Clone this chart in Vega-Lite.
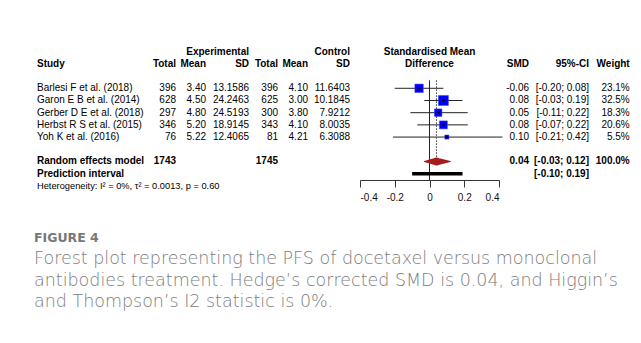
{
  "$schema": "https://vega.github.io/schema/vega-lite/v6.json",
  "padding": {"left": 34, "top": 45.6, "right": 5, "bottom": 5},
  "background": "#ffffff",
  "datasets": {
    "studies": [
      {"study": "Barlesi F et al. (2018)", "eTotal": 396, "eMean": 3.40, "eSD": 13.1586, "cTotal": 396, "cMean": 4.10, "cSD": 11.6403, "smd": -0.06, "lo": -0.20, "hi": 0.08, "weight": 0.231, "row": 3},
      {"study": "Garon E B et al. (2014)", "eTotal": 628, "eMean": 4.50, "eSD": 24.2463, "cTotal": 625, "cMean": 3.00, "cSD": 10.1845, "smd": 0.08, "lo": -0.03, "hi": 0.19, "weight": 0.325, "row": 4},
      {"study": "Gerber D E et al. (2018)", "eTotal": 297, "eMean": 4.80, "eSD": 24.5193, "cTotal": 300, "cMean": 3.80, "cSD": 7.9212, "smd": 0.05, "lo": -0.11, "hi": 0.22, "weight": 0.183, "row": 5},
      {"study": "Herbst R S et al. (2015)", "eTotal": 346, "eMean": 5.20, "eSD": 18.9145, "cTotal": 343, "cMean": 4.10, "cSD": 8.0035, "smd": 0.08, "lo": -0.07, "hi": 0.22, "weight": 0.206, "row": 6},
      {"study": "Yoh K et al. (2016)", "eTotal": 76, "eMean": 5.22, "eSD": 12.4065, "cTotal": 81, "cMean": 4.21, "cSD": 6.3088, "smd": 0.10, "lo": -0.21, "hi": 0.42, "weight": 0.055, "row": 7}
    ],
    "pooled": [
      {"label": "Random effects model", "eTotal": 1743, "cTotal": 1745, "smd": 0.04, "lo": -0.03, "hi": 0.12, "weight": 1.0, "row": 9}
    ],
    "prediction": [
      {"label": "Prediction interval", "lo": -0.10, "hi": 0.19, "row": 10}
    ],
    "heterogeneity": [
      {"text": "Heterogeneity: I² = 0%, τ² = 0.0013, p = 0.60", "row": 11}
    ]
  },
  "title": {
    "text": "FIGURE 4",
    "subtitle": [
      "Forest plot representing the PFS of docetaxel versus monoclonal",
      "antibodies treatment. Hedge’s corrected SMD is 0.04, and Higgin’s",
      "and Thompson’s I2 statistic is 0%."
    ],
    "orient": "bottom",
    "anchor": "start",
    "dx": -3,
    "offset": 29,
    "font": "DejaVu Sans",
    "fontSize": 12.5,
    "fontWeight": 600,
    "color": "#787878",
    "subtitleFont": "DejaVu Sans",
    "subtitleFontSize": 17.5,
    "subtitleFontWeight": 300,
    "subtitleColor": "#7c7c7c",
    "subtitleLineHeight": 21.5,
    "subtitlePadding": 6
  },
  "hconcat": [
    {
      "width": 108, "height": 146.4,
      "layer": [
        {"data": {"values": [{}]}, "mark": {"type": "text", "align": "left", "fontWeight": "bold"},
         "encoding": {"x": {"datum": 0, "type": "quantitative", "scale": {"domain": [0, 1]}, "axis": null},
                      "y": {"datum": 1, "type": "quantitative", "scale": {"domain": [-0.5, 11.5], "reverse": true, "nice": false, "zero": false}, "axis": null},
                      "text": {"value": "Study"}}},
        {"data": {"name": "studies"}, "mark": {"type": "text", "align": "left"},
         "encoding": {"x": {"datum": 0, "type": "quantitative", "scale": {"domain": [0, 1]}, "axis": null},
                      "y": {"field": "row", "type": "quantitative", "scale": {"domain": [-0.5, 11.5], "reverse": true, "nice": false, "zero": false}, "axis": null},
                      "text": {"field": "study"}}},
        {"data": {"name": "pooled"}, "mark": {"type": "text", "align": "left", "fontWeight": "bold"},
         "encoding": {"x": {"datum": 0, "type": "quantitative", "scale": {"domain": [0, 1]}, "axis": null},
                      "y": {"field": "row", "type": "quantitative", "scale": {"domain": [-0.5, 11.5], "reverse": true, "nice": false, "zero": false}, "axis": null},
                      "text": {"field": "label"}}},
        {"data": {"name": "prediction"}, "mark": {"type": "text", "align": "left", "fontWeight": "bold"},
         "encoding": {"x": {"datum": 0, "type": "quantitative", "scale": {"domain": [0, 1]}, "axis": null},
                      "y": {"field": "row", "type": "quantitative", "scale": {"domain": [-0.5, 11.5], "reverse": true, "nice": false, "zero": false}, "axis": null},
                      "text": {"field": "label"}}},
        {"data": {"name": "heterogeneity"}, "mark": {"type": "text", "align": "left", "fontSize": 9.3},
         "encoding": {"x": {"datum": 0, "type": "quantitative", "scale": {"domain": [0, 1]}, "axis": null},
                      "y": {"field": "row", "type": "quantitative", "scale": {"domain": [-0.5, 11.5], "reverse": true, "nice": false, "zero": false}, "axis": null},
                      "text": {"field": "text"}}}
      ]
    },
    {
      "width": 31, "height": 146.4,
      "layer": [
        {"data": {"values": [{}]}, "mark": {"type": "text", "align": "right", "fontWeight": "bold"},
         "encoding": {"x": {"datum": 1, "type": "quantitative", "scale": {"domain": [0, 1]}, "axis": null},
                      "y": {"datum": 1, "type": "quantitative", "scale": {"domain": [-0.5, 11.5], "reverse": true, "nice": false, "zero": false}, "axis": null},
                      "text": {"value": "Total"}}},
        {"data": {"name": "studies"}, "mark": {"type": "text", "align": "right"},
         "encoding": {"x": {"datum": 1, "type": "quantitative", "scale": {"domain": [0, 1]}, "axis": null},
                      "y": {"field": "row", "type": "quantitative", "scale": {"domain": [-0.5, 11.5], "reverse": true, "nice": false, "zero": false}, "axis": null},
                      "text": {"field": "eTotal", "type": "quantitative", "format": "d"}}},
        {"data": {"name": "pooled"}, "mark": {"type": "text", "align": "right", "fontWeight": "bold"},
         "encoding": {"x": {"datum": 1, "type": "quantitative", "scale": {"domain": [0, 1]}, "axis": null},
                      "y": {"field": "row", "type": "quantitative", "scale": {"domain": [-0.5, 11.5], "reverse": true, "nice": false, "zero": false}, "axis": null},
                      "text": {"field": "eTotal", "type": "quantitative", "format": "d"}}}
      ]
    },
    {
      "width": 30, "height": 146.4,
      "layer": [
        {"data": {"values": [{}]}, "mark": {"type": "text", "align": "right", "fontWeight": "bold"},
         "encoding": {"x": {"datum": 1, "type": "quantitative", "scale": {"domain": [0, 1]}, "axis": null},
                      "y": {"datum": 1, "type": "quantitative", "scale": {"domain": [-0.5, 11.5], "reverse": true, "nice": false, "zero": false}, "axis": null},
                      "text": {"value": "Mean"}}},
        {"data": {"name": "studies"}, "mark": {"type": "text", "align": "right"},
         "encoding": {"x": {"datum": 1, "type": "quantitative", "scale": {"domain": [0, 1]}, "axis": null},
                      "y": {"field": "row", "type": "quantitative", "scale": {"domain": [-0.5, 11.5], "reverse": true, "nice": false, "zero": false}, "axis": null},
                      "text": {"field": "eMean", "type": "quantitative", "format": ".2f"}}}
      ]
    },
    {
      "width": 43, "height": 146.4,
      "layer": [
        {"data": {"values": [{}]}, "mark": {"type": "text", "align": "right", "fontWeight": "bold"},
         "encoding": {"x": {"datum": 1, "type": "quantitative", "scale": {"domain": [0, 1]}, "axis": null},
                      "y": {"datum": 0, "type": "quantitative", "scale": {"domain": [-0.5, 11.5], "reverse": true, "nice": false, "zero": false}, "axis": null},
                      "text": {"value": "Experimental"}}},
        {"data": {"values": [{}]}, "mark": {"type": "text", "align": "right", "fontWeight": "bold"},
         "encoding": {"x": {"datum": 1, "type": "quantitative", "scale": {"domain": [0, 1]}, "axis": null},
                      "y": {"datum": 1, "type": "quantitative", "scale": {"domain": [-0.5, 11.5], "reverse": true, "nice": false, "zero": false}, "axis": null},
                      "text": {"value": "SD"}}},
        {"data": {"name": "studies"}, "mark": {"type": "text", "align": "right"},
         "encoding": {"x": {"datum": 1, "type": "quantitative", "scale": {"domain": [0, 1]}, "axis": null},
                      "y": {"field": "row", "type": "quantitative", "scale": {"domain": [-0.5, 11.5], "reverse": true, "nice": false, "zero": false}, "axis": null},
                      "text": {"field": "eSD", "type": "quantitative", "format": ".4f"}}}
      ]
    },
    {
      "width": 29, "height": 146.4,
      "layer": [
        {"data": {"values": [{}]}, "mark": {"type": "text", "align": "right", "fontWeight": "bold"},
         "encoding": {"x": {"datum": 1, "type": "quantitative", "scale": {"domain": [0, 1]}, "axis": null},
                      "y": {"datum": 1, "type": "quantitative", "scale": {"domain": [-0.5, 11.5], "reverse": true, "nice": false, "zero": false}, "axis": null},
                      "text": {"value": "Total"}}},
        {"data": {"name": "studies"}, "mark": {"type": "text", "align": "right"},
         "encoding": {"x": {"datum": 1, "type": "quantitative", "scale": {"domain": [0, 1]}, "axis": null},
                      "y": {"field": "row", "type": "quantitative", "scale": {"domain": [-0.5, 11.5], "reverse": true, "nice": false, "zero": false}, "axis": null},
                      "text": {"field": "cTotal", "type": "quantitative", "format": "d"}}},
        {"data": {"name": "pooled"}, "mark": {"type": "text", "align": "right", "fontWeight": "bold"},
         "encoding": {"x": {"datum": 1, "type": "quantitative", "scale": {"domain": [0, 1]}, "axis": null},
                      "y": {"field": "row", "type": "quantitative", "scale": {"domain": [-0.5, 11.5], "reverse": true, "nice": false, "zero": false}, "axis": null},
                      "text": {"field": "cTotal", "type": "quantitative", "format": "d"}}}
      ]
    },
    {
      "width": 30, "height": 146.4,
      "layer": [
        {"data": {"values": [{}]}, "mark": {"type": "text", "align": "right", "fontWeight": "bold"},
         "encoding": {"x": {"datum": 1, "type": "quantitative", "scale": {"domain": [0, 1]}, "axis": null},
                      "y": {"datum": 1, "type": "quantitative", "scale": {"domain": [-0.5, 11.5], "reverse": true, "nice": false, "zero": false}, "axis": null},
                      "text": {"value": "Mean"}}},
        {"data": {"name": "studies"}, "mark": {"type": "text", "align": "right"},
         "encoding": {"x": {"datum": 1, "type": "quantitative", "scale": {"domain": [0, 1]}, "axis": null},
                      "y": {"field": "row", "type": "quantitative", "scale": {"domain": [-0.5, 11.5], "reverse": true, "nice": false, "zero": false}, "axis": null},
                      "text": {"field": "cMean", "type": "quantitative", "format": ".2f"}}}
      ]
    },
    {
      "width": 51.3, "height": 146.4,
      "layer": [
        {"data": {"values": [{}]}, "mark": {"type": "text", "align": "right", "fontWeight": "bold", "dx": -9.3},
         "encoding": {"x": {"datum": 1, "type": "quantitative", "scale": {"domain": [0, 1]}, "axis": null},
                      "y": {"datum": 0, "type": "quantitative", "scale": {"domain": [-0.5, 11.5], "reverse": true, "nice": false, "zero": false}, "axis": null},
                      "text": {"value": "Control"}}},
        {"data": {"values": [{}]}, "mark": {"type": "text", "align": "right", "fontWeight": "bold", "dx": -9.3},
         "encoding": {"x": {"datum": 1, "type": "quantitative", "scale": {"domain": [0, 1]}, "axis": null},
                      "y": {"datum": 1, "type": "quantitative", "scale": {"domain": [-0.5, 11.5], "reverse": true, "nice": false, "zero": false}, "axis": null},
                      "text": {"value": "SD"}}},
        {"data": {"name": "studies"}, "mark": {"type": "text", "align": "right", "dx": -9.3},
         "encoding": {"x": {"datum": 1, "type": "quantitative", "scale": {"domain": [0, 1]}, "axis": null},
                      "y": {"field": "row", "type": "quantitative", "scale": {"domain": [-0.5, 11.5], "reverse": true, "nice": false, "zero": false}, "axis": null},
                      "text": {"field": "cSD", "type": "quantitative", "format": ".4f"}}}
      ]
    },
    {
      "width": 139, "height": 134.4,
      "layer": [
        {"data": {"name": "studies"}, "mark": {"type": "rule", "color": "#222222", "strokeWidth": 1},
         "encoding": {"x": {"field": "lo", "type": "quantitative", "title": null,
                            "scale": {"domain": [-0.4, 0.4], "nice": false, "zero": false},
                            "axis": {"values": [-0.4, -0.2, 0, 0.2, 0.4], "tickCount": 5, "format": ".1~f", "labelOverlap": false, "labelSeparation": 0}},
                      "x2": {"field": "hi"},
                      "y": {"field": "row", "type": "quantitative", "scale": {"domain": [-0.5, 10.52], "reverse": true, "nice": false, "zero": false}, "axis": null}}},
        {"data": {"values": [{}]}, "mark": {"type": "rule", "color": "#222222", "strokeWidth": 1},
         "encoding": {"x": {"datum": 0, "type": "quantitative", "title": null},
                      "y": {"datum": 2.35, "type": "quantitative"},
                      "y2": {"datum": 10.52}}},
        {"data": {"name": "pooled"}, "mark": {"type": "rule", "color": "#333333", "strokeWidth": 1, "strokeDash": [1.5, 1.5]},
         "encoding": {"x": {"field": "smd", "type": "quantitative", "title": null},
                      "y": {"datum": 2.35, "type": "quantitative"},
                      "y2": {"datum": 8.67}}},
        {"data": {"name": "studies"}, "mark": {"type": "point", "shape": "square", "filled": true, "color": "#0000ff", "opacity": 1, "stroke": "#3a3aff", "strokeWidth": 0.5},
         "encoding": {"x": {"field": "smd", "type": "quantitative", "title": null},
                      "y": {"field": "row", "type": "quantitative"},
                      "size": {"field": "weight", "type": "quantitative", "scale": {"domain": [0, 0.325], "range": [0, 100], "zero": true}, "legend": null}}},
        {"data": {"name": "studies"}, "mark": {"type": "point", "shape": "M-1,0H1M0,-1V1", "filled": false, "stroke": "#000000", "strokeWidth": 1, "opacity": 1, "size": 10},
         "encoding": {"x": {"field": "smd", "type": "quantitative", "title": null},
                      "y": {"field": "row", "type": "quantitative"}}},
        {"data": {"name": "pooled"},
         "transform": [{"fold": ["lo", "smd", "hi"], "as": ["part", "value"]}],
         "mark": {"type": "trail", "color": "#a51c1c", "opacity": 1},
         "encoding": {"x": {"field": "value", "type": "quantitative", "title": null},
                      "y": {"field": "row", "type": "quantitative"},
                      "order": {"field": "value", "type": "quantitative"},
                      "size": {"field": "part", "type": "nominal", "scale": {"type": "ordinal", "domain": ["lo", "smd", "hi"], "range": [0, 8, 0]}, "legend": null}}},
        {"data": {"name": "prediction"}, "mark": {"type": "rule", "color": "#000000", "strokeWidth": 3.5},
         "encoding": {"x": {"field": "lo", "type": "quantitative", "title": null},
                      "x2": {"field": "hi"},
                      "y": {"field": "row", "type": "quantitative"}}},
        {"data": {"values": [{}]}, "mark": {"type": "text", "align": "center", "fontWeight": "bold"},
         "encoding": {"x": {"datum": 0, "type": "quantitative", "title": null},
                      "y": {"datum": 0, "type": "quantitative"},
                      "text": {"value": "Standardised Mean"}}},
        {"data": {"values": [{}]}, "mark": {"type": "text", "align": "center", "fontWeight": "bold"},
         "encoding": {"x": {"datum": 0, "type": "quantitative", "title": null},
                      "y": {"datum": 1, "type": "quantitative"},
                      "text": {"value": "Difference"}}}
      ]
    },
    {
      "width": 30, "height": 146.4,
      "layer": [
        {"data": {"values": [{}]}, "mark": {"type": "text", "align": "right", "fontWeight": "bold"},
         "encoding": {"x": {"datum": 1, "type": "quantitative", "scale": {"domain": [0, 1]}, "axis": null},
                      "y": {"datum": 1, "type": "quantitative", "scale": {"domain": [-0.5, 11.5], "reverse": true, "nice": false, "zero": false}, "axis": null},
                      "text": {"value": "SMD"}}},
        {"data": {"name": "studies"}, "mark": {"type": "text", "align": "right"},
         "encoding": {"x": {"datum": 1, "type": "quantitative", "scale": {"domain": [0, 1]}, "axis": null},
                      "y": {"field": "row", "type": "quantitative", "scale": {"domain": [-0.5, 11.5], "reverse": true, "nice": false, "zero": false}, "axis": null},
                      "text": {"field": "smd", "type": "quantitative", "format": ".2f"}}},
        {"data": {"name": "pooled"}, "mark": {"type": "text", "align": "right", "fontWeight": "bold"},
         "encoding": {"x": {"datum": 1, "type": "quantitative", "scale": {"domain": [0, 1]}, "axis": null},
                      "y": {"field": "row", "type": "quantitative", "scale": {"domain": [-0.5, 11.5], "reverse": true, "nice": false, "zero": false}, "axis": null},
                      "text": {"field": "smd", "type": "quantitative", "format": ".2f"}}}
      ]
    },
    {
      "width": 60, "height": 146.4,
      "layer": [
        {"data": {"values": [{}]}, "mark": {"type": "text", "align": "right", "fontWeight": "bold"},
         "encoding": {"x": {"datum": 1, "type": "quantitative", "scale": {"domain": [0, 1]}, "axis": null},
                      "y": {"datum": 1, "type": "quantitative", "scale": {"domain": [-0.5, 11.5], "reverse": true, "nice": false, "zero": false}, "axis": null},
                      "text": {"value": "95%-CI"}}},
        {"data": {"name": "studies"},
         "transform": [{"calculate": "'[' + format(datum.lo, '.2f') + '; ' + format(datum.hi, '.2f') + ']'", "as": "ci"}],
         "mark": {"type": "text", "align": "right"},
         "encoding": {"x": {"datum": 1, "type": "quantitative", "scale": {"domain": [0, 1]}, "axis": null},
                      "y": {"field": "row", "type": "quantitative", "scale": {"domain": [-0.5, 11.5], "reverse": true, "nice": false, "zero": false}, "axis": null},
                      "text": {"field": "ci"}}},
        {"data": {"name": "pooled"},
         "transform": [{"calculate": "'[' + format(datum.lo, '.2f') + '; ' + format(datum.hi, '.2f') + ']'", "as": "ci"}],
         "mark": {"type": "text", "align": "right", "fontWeight": "bold"},
         "encoding": {"x": {"datum": 1, "type": "quantitative", "scale": {"domain": [0, 1]}, "axis": null},
                      "y": {"field": "row", "type": "quantitative", "scale": {"domain": [-0.5, 11.5], "reverse": true, "nice": false, "zero": false}, "axis": null},
                      "text": {"field": "ci"}}},
        {"data": {"name": "prediction"},
         "transform": [{"calculate": "'[' + format(datum.lo, '.2f') + '; ' + format(datum.hi, '.2f') + ']'", "as": "ci"}],
         "mark": {"type": "text", "align": "right", "fontWeight": "bold"},
         "encoding": {"x": {"datum": 1, "type": "quantitative", "scale": {"domain": [0, 1]}, "axis": null},
                      "y": {"field": "row", "type": "quantitative", "scale": {"domain": [-0.5, 11.5], "reverse": true, "nice": false, "zero": false}, "axis": null},
                      "text": {"field": "ci"}}}
      ]
    },
    {
      "width": 40.7, "height": 146.4,
      "layer": [
        {"data": {"values": [{}]}, "mark": {"type": "text", "align": "right", "fontWeight": "bold"},
         "encoding": {"x": {"datum": 1, "type": "quantitative", "scale": {"domain": [0, 1]}, "axis": null},
                      "y": {"datum": 1, "type": "quantitative", "scale": {"domain": [-0.5, 11.5], "reverse": true, "nice": false, "zero": false}, "axis": null},
                      "text": {"value": "Weight"}}},
        {"data": {"name": "studies"}, "mark": {"type": "text", "align": "right"},
         "encoding": {"x": {"datum": 1, "type": "quantitative", "scale": {"domain": [0, 1]}, "axis": null},
                      "y": {"field": "row", "type": "quantitative", "scale": {"domain": [-0.5, 11.5], "reverse": true, "nice": false, "zero": false}, "axis": null},
                      "text": {"field": "weight", "type": "quantitative", "format": ".1%"}}},
        {"data": {"name": "pooled"}, "mark": {"type": "text", "align": "right", "fontWeight": "bold"},
         "encoding": {"x": {"datum": 1, "type": "quantitative", "scale": {"domain": [0, 1]}, "axis": null},
                      "y": {"field": "row", "type": "quantitative", "scale": {"domain": [-0.5, 11.5], "reverse": true, "nice": false, "zero": false}, "axis": null},
                      "text": {"field": "weight", "type": "quantitative", "format": ".1%"}}}
      ]
    }
  ],
  "spacing": 0,
  "bounds": "flush",
  "resolve": {"scale": {"x": "independent", "y": "independent", "size": "independent"}},
  "config": {
    "view": {"stroke": null},
    "locale": {"number": {"decimal": ".", "thousands": ",", "grouping": [3], "currency": ["$", ""], "minus": "-"}},
    "text": {"font": "Liberation Sans", "fontSize": 10, "baseline": "middle", "color": "#000000"},
    "axisX": {
      "domainColor": "#333333", "tickColor": "#333333", "tickSize": 7, "tickWidth": 1, "domainWidth": 1,
      "labelFont": "Liberation Sans", "labelFontSize": 10, "labelColor": "#111111", "labelPadding": 6, "grid": false,
      "labelOverlap": false
    }
  }
}
